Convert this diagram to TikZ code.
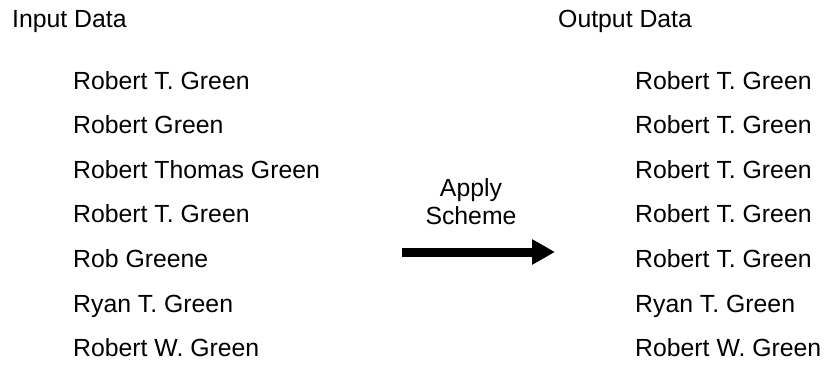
\documentclass[tikz,border=0pt]{standalone}
\usepackage{fontspec}
\setmainfont{Liberation Sans}
\usetikzlibrary{arrows.meta}
\begin{document}
\begin{tikzpicture}[x=1pt,y=-1pt,
  lbl/.style={anchor=base west,inner sep=0pt,font=\fontsize{24.8}{30}\selectfont},
  ctr/.style={anchor=base,inner sep=0pt,font=\fontsize{24.8}{30}\selectfont},
  bigarrow/.style={line width=9pt,-{Triangle[length=23pt,width=24pt]}}]
\useasboundingbox (0,0) rectangle (825,368);
\node[lbl] (tin) at (12,27) {Input Data};
\node[lbl] (tout) at (558,27) {Output Data};
\foreach \t [count=\i] in {Robert T. Green,Robert Green,Robert Thomas Green,Robert T. Green,Rob Greene,Ryan T. Green,Robert W. Green}
  \node[lbl] (in\i) at (73,{89+44.6*(\i-1)}) {\t};
\foreach \t [count=\i] in {Robert T. Green,Robert T. Green,Robert T. Green,Robert T. Green,Robert T. Green,Ryan T. Green,Robert W. Green}
  \node[lbl] (out\i) at (635,{89+44.6*(\i-1)}) {\t};
\node[ctr] (apply) at (471,196) {Apply};
\node[ctr] (scheme) at (471,224) {Scheme};
\coordinate (as) at (402,252);
\coordinate (ae) at (555,252);
\draw[bigarrow] (as) -- (ae);
\end{tikzpicture}
\end{document}
